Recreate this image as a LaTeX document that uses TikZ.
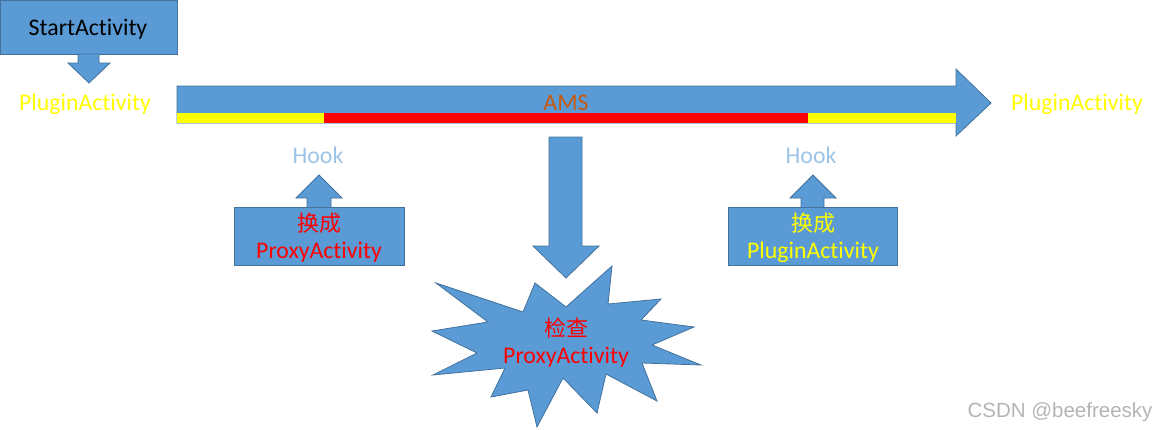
\documentclass[tikz,border=0pt]{standalone}
\usepackage{fontspec}
\setmainfont{Carlito}[Ligatures=NoCommon]
\newfontfamily\cjkfont{Noto Sans CJK SC}
\newfontfamily\markfont{Liberation Sans}
\usetikzlibrary{positioning}
\definecolor{shblue}{HTML}{5B9BD5}
\definecolor{shedge}{HTML}{41719C}
\definecolor{txyellow}{HTML}{FFFF00}
\definecolor{txred}{HTML}{FF0000}
\definecolor{txhook}{HTML}{9DC3E6}
\definecolor{txams}{HTML}{C55A11}
\definecolor{wmgrey}{HTML}{B4B4B4}
\tikzset{
  blk/.style   ={fill=shblue, draw=shedge, line width=0.8pt, line join=miter},
  lbl/.style   ={inner sep=0pt, anchor=base, font=\fontsize{23.8}{28}\selectfont},
  cjk/.style   ={lbl, font=\fontsize{22}{28}\selectfont\cjkfont}
}
\begin{document}
\begin{tikzpicture}[x=1pt, y=-1pt]
  \useasboundingbox (0,0) rectangle (1160,429);

  % start box and its arrow
  \draw[blk] (0.5,0.5) rectangle (177,54);
  \node[lbl] (start) at (88,35) {StartActivity};
  \draw[blk] (78,54) -- (99,54) -- (99,63) -- (110,63) -- (89,83) -- (68,63) -- (78,63) -- cycle;
  \node[lbl,text=txyellow] (plugl) at (85,110) {PluginActivity};

  % AMS arrow with the coloured strip
  \draw[blk] (177,86) -- (956,86) -- (956,69) -- (991,103) -- (956,136) -- (956,123) -- (177,123) -- cycle;
  \fill[txyellow] (177,113) rectangle (324,123);
  \fill[txred] (324,113) rectangle (808,123);
  \fill[txyellow] (808,113) rectangle (956,123);
  \node[lbl,text=txams] (ams) at (566,110) {AMS};
  \node[lbl,text=txyellow] (plugr) at (1077,110) {PluginActivity};

  % left hook
  \node[lbl,text=txhook] (hookl) at (318,163) {Hook};
  \draw[blk] (307,207) -- (307,198) -- (296,198) -- (319,175) -- (342,198) -- (331,198) -- (331,207);
  \draw[blk] (234,207) rectangle (404,265);
  \node[cjk,text=txred] (swapl) at (319,231) {换成};
  \node[lbl,text=txred] (proxyl) at (319,258) {ProxyActivity};

  % right hook
  \node[lbl,text=txhook] (hookr) at (811,163) {Hook};
  \draw[blk] (801,207) -- (801,198) -- (790,198) -- (813,175) -- (836,198) -- (824,198) -- (824,207);
  \draw[blk] (728,207) rectangle (897,265);
  \node[cjk,text=txyellow] (swapr) at (813,231) {换成};
  \node[lbl,text=txyellow] (pluginr) at (813,258) {PluginActivity};

  % check in AMS
  \draw[blk] (549,137) -- (582,137) -- (582,246) -- (599,246) -- (566,278) -- (533,246) -- (549,246) -- cycle;
  \draw[blk] (436,283) -- (523,312) -- (535,283) -- (566,307) -- (612,266) -- (608,304)
    -- (661,299) -- (641,320) -- (694,327) -- (652,345) -- (701,365) -- (642,363)
    -- (657,401) -- (606,374) -- (597,413) -- (563,378) -- (537,427) -- (528,390)
    -- (491,397) -- (505,368) -- (433,375) -- (477,353) -- (432,331) -- (488,322) -- cycle;
  \node[cjk,text=txred] (check) at (566,336) {检查};
  \node[lbl,text=txred] (proxyc) at (566,363) {ProxyActivity};

  \node[inner sep=0pt, anchor=base, text=wmgrey, font=\fontsize{20.5}{24}\selectfont\markfont] (mark) at (1060,417) {CSDN @beefreesky};
\end{tikzpicture}
\end{document}
